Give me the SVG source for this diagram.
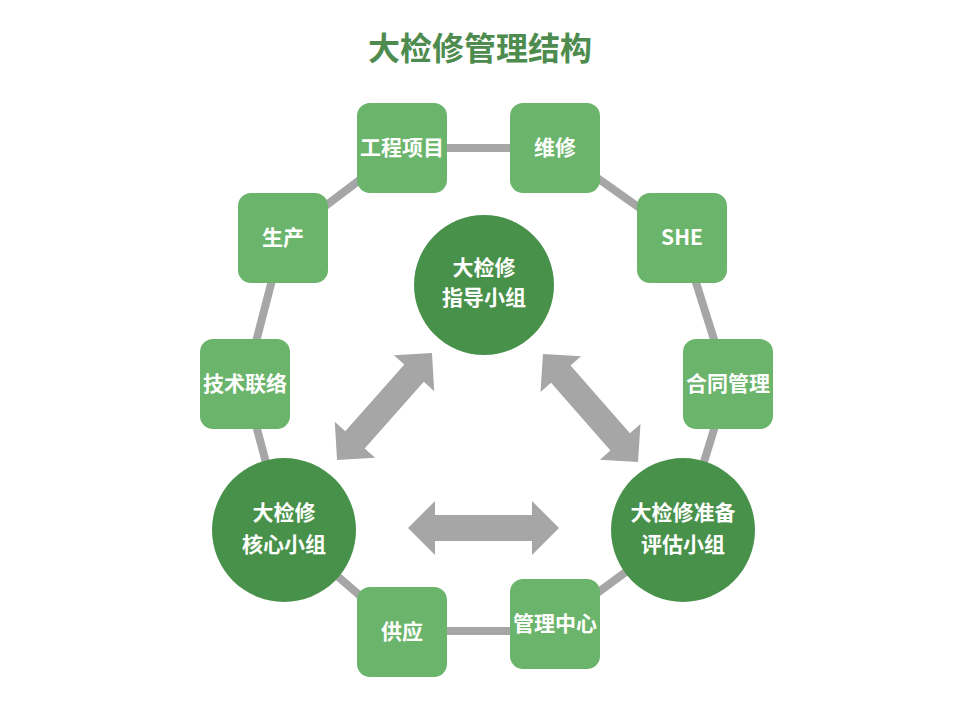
<svg xmlns="http://www.w3.org/2000/svg" width="960" height="720" viewBox="0 0 960 720">
<defs>
<style>
.box{fill:#6bb46b}
.circ{fill:#48914a}
.lbl{font-family:"Noto Sans CJK SC","Liberation Sans",sans-serif;font-weight:bold;font-size:21px;fill:#ffffff;text-anchor:middle}
.title{font-family:"Noto Sans CJK SC","Liberation Sans",sans-serif;font-weight:bold;font-size:32px;fill:#4e8b4f;text-anchor:middle}
.ring{fill:none;stroke:#a6a6a6;stroke-width:8;stroke-linejoin:round}
.arr{fill:#a6a6a6}
</style>
</defs>
<rect width="960" height="720" fill="#ffffff"/>
<text class="title" x="480" y="60">大检修管理结构</text>
<g id="connectors">
<polyline class="ring" points="402,148 555,148 682,238 728,384 683,530 555,624"/>
<line class="ring" x1="555" y1="631" x2="402" y2="631"/>
<polyline class="ring" points="402,632 284,530 245,384 283,238 402,148"/>
<path class="arr" transform="translate(384.5,406.5) rotate(-48.4)" d="M-71.5,0 L-44.5,-27 L-44.5,-13 L44.5,-13 L44.5,-27 L71.5,0 L44.5,27 L44.5,13 L-44.5,13 L-44.5,27 Z"/>
<path class="arr" transform="translate(590.5,408) rotate(48.7)" d="M-72,0 L-45,-27 L-45,-13 L45,-13 L45,-27 L72,0 L45,27 L45,13 L-45,13 L-45,27 Z"/>
<path class="arr" transform="translate(483.5,528)" d="M-75.5,0 L-48.5,-27 L-48.5,-13 L48.5,-13 L48.5,-27 L75.5,0 L48.5,27 L48.5,13 L-48.5,13 L-48.5,27 Z"/>
</g>
<g id="n-gcxm"><rect class="box" x="357" y="103" width="90" height="90" rx="13"/><text class="lbl" x="402" y="155">工程项目</text></g>
<g id="n-wx"><rect class="box" x="510" y="103" width="90" height="90" rx="13"/><text class="lbl" x="555" y="155">维修</text></g>
<g id="n-she"><rect class="box" x="637" y="193" width="90" height="90" rx="13"/><text class="lbl" x="682" y="245">SHE</text></g>
<g id="n-htgl"><rect class="box" x="683" y="339" width="90" height="90" rx="13"/><text class="lbl" x="728" y="391">合同管理</text></g>
<g id="n-glzx"><rect class="box" x="510" y="579" width="90" height="90" rx="13"/><text class="lbl" x="555" y="631">管理中心</text></g>
<g id="n-gy"><rect class="box" x="357" y="587" width="90" height="90" rx="13"/><text class="lbl" x="402" y="639">供应</text></g>
<g id="n-jsll"><rect class="box" x="200" y="339" width="90" height="90" rx="13"/><text class="lbl" x="245" y="391">技术联络</text></g>
<g id="n-sc"><rect class="box" x="238" y="193" width="90" height="90" rx="13"/><text class="lbl" x="283" y="245">生产</text></g>
<g id="n-zd"><circle class="circ" cx="484" cy="285" r="70"/><text class="lbl" x="484" y="275">大检修</text><text class="lbl" x="484" y="305">指导小组</text></g>
<g id="n-hx"><circle class="circ" cx="284" cy="530" r="72"/><text class="lbl" x="284" y="520">大检修</text><text class="lbl" x="284" y="552">核心小组</text></g>
<g id="n-pg"><circle class="circ" cx="683" cy="530" r="72"/><text class="lbl" x="683" y="520">大检修准备</text><text class="lbl" x="683" y="552">评估小组</text></g>
</svg>
